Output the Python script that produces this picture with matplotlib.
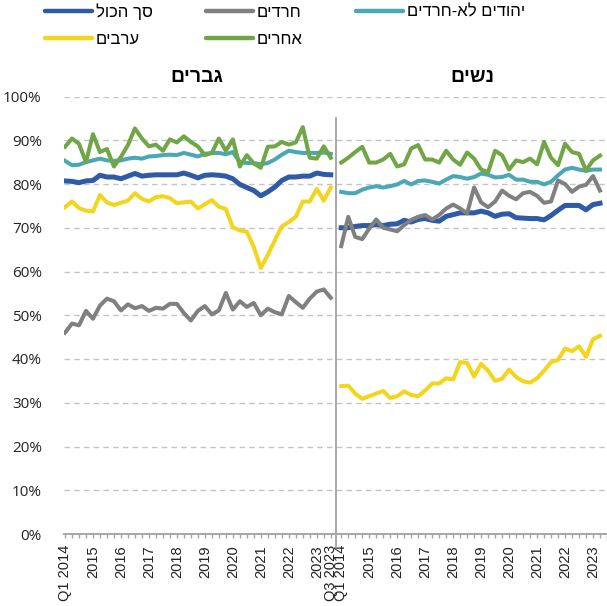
import numpy as np
import matplotlib
matplotlib.use("Agg")
import matplotlib.pyplot as plt
from matplotlib.lines import Line2D


def heb(s):
    # matplotlib has no bidi support, so reverse Hebrew strings by hand
    return s[::-1]


HEB_FONT = ['Liberation Sans', 'DejaVu Sans']

# series names (logical order)
names = ['סך הכול', 'יהודים לא-חרדים', 'חרדים', 'ערבים', 'אחרים']
colors = ['#2f5aa6', '#4ba7b5', '#808080', '#f2d51c', '#70a646']

# men, Q1 2014 - Q3 2023 (employment rate, %)
men_total = [80.7, 80.6, 80.3, 80.7, 80.8, 82.0, 81.6, 81.6, 81.2, 81.8, 82.4, 81.8, 82.0,
             82.1, 82.1, 82.1, 82.1, 82.5, 82.0, 81.4, 82.0, 82.1, 82.0, 81.8, 81.2, 79.9,
             79.2, 78.5, 77.3, 78.2, 79.3, 80.8, 81.6, 81.6, 81.8, 81.8, 82.5, 82.2, 82.1]
men_jews = [85.3, 84.3, 84.4, 85.0, 85.4, 85.8, 85.4, 85.3, 85.4, 85.8, 86.0, 85.8, 86.3,
            86.4, 86.6, 86.7, 86.6, 87.1, 86.7, 86.3, 86.9, 87.1, 87.1, 86.8, 87.3, 85.0,
            84.8, 84.8, 84.5, 84.8, 85.6, 86.7, 87.6, 87.3, 87.1, 87.1, 87.1, 87.2, 86.9]
men_haredi = [46.0, 48.1, 47.7, 51.0, 49.2, 52.2, 53.8, 53.2, 51.1, 52.5, 51.6, 52.1, 51.0,
              51.7, 51.5, 52.6, 52.6, 50.5, 48.8, 51.0, 52.1, 50.2, 51.1, 55.1, 51.3, 53.2,
              51.9, 52.8, 50.0, 51.5, 50.7, 50.2, 54.4, 53.0, 51.7, 53.8, 55.4, 55.9, 54.0]
men_arab = [74.7, 76.0, 74.5, 73.9, 73.7, 77.5, 75.8, 75.2, 75.7, 76.2, 77.9, 76.6, 76.0,
            77.0, 77.2, 76.8, 75.6, 75.8, 76.0, 74.4, 75.4, 76.3, 74.8, 74.3, 70.1, 69.4,
            69.1, 65.6, 60.8, 63.8, 67.1, 70.3, 71.3, 72.5, 76.0, 76.0, 78.9, 76.2, 79.2]
men_other = [88.5, 90.4, 89.2, 85.0, 91.4, 87.3, 88.0, 84.0, 86.2, 88.9, 92.7, 90.4, 88.6,
             89.0, 87.6, 90.2, 89.5, 90.9, 89.6, 88.6, 86.6, 87.1, 90.4, 87.6, 90.2, 84.0,
             86.6, 84.7, 83.7, 88.5, 88.6, 89.6, 89.0, 89.5, 93.0, 86.0, 85.8, 88.6, 86.0]

# women, Q1 2014 onwards (the picture is cut at the right edge)
women_total = [70.0, 70.0, 70.3, 70.5, 70.5, 70.7, 70.5, 70.8, 70.9, 71.7, 71.3, 71.9, 72.1,
               71.7, 71.5, 72.6, 73.0, 73.4, 73.4, 73.4, 73.8, 73.4, 72.6, 73.1, 73.2, 72.3,
               72.2, 72.1, 72.1, 71.8, 72.8, 74.0, 75.1, 75.1, 75.1, 74.1, 75.3, 75.6]
women_jews = [78.2, 77.9, 77.9, 78.7, 79.2, 79.5, 79.2, 79.5, 79.9, 80.7, 79.9, 80.7, 80.8,
              80.5, 80.1, 81.0, 81.8, 81.6, 81.2, 81.6, 82.4, 82.1, 81.5, 81.6, 82.1, 81.0,
              81.0, 80.5, 80.5, 79.9, 80.5, 82.0, 83.3, 83.7, 83.3, 83.0, 83.3, 83.3]
women_haredi = [65.8, 72.5, 67.9, 67.4, 69.8, 71.9, 70.0, 69.6, 69.2, 70.6, 71.8, 72.5, 72.9,
                71.9, 72.9, 74.4, 75.3, 74.4, 73.3, 79.2, 75.8, 74.7, 76.0, 78.5, 77.3, 76.5,
                77.9, 78.2, 77.3, 75.7, 76.0, 80.8, 80.0, 78.2, 79.4, 79.8, 81.8, 78.5]
women_arab = [33.8, 33.9, 32.1, 30.9, 31.5, 32.1, 32.7, 31.1, 31.5, 32.6, 31.8, 31.5, 32.8,
              34.4, 34.4, 35.6, 35.3, 39.3, 39.1, 36.0, 38.9, 37.3, 35.0, 35.5, 37.6, 35.9,
              34.9, 34.6, 35.6, 37.3, 39.3, 39.8, 42.4, 41.8, 42.9, 40.5, 44.5, 45.3]
women_other = [84.9, 86.0, 87.3, 88.5, 84.9, 84.9, 85.6, 86.9, 84.0, 84.5, 88.1, 88.9, 85.6,
               85.6, 84.9, 87.6, 85.6, 84.4, 87.2, 85.8, 83.3, 82.7, 87.6, 86.6, 83.3, 85.4,
               85.0, 85.8, 84.5, 89.6, 86.0, 84.3, 89.2, 87.3, 86.9, 83.1, 85.4, 86.5]

men = [men_total, men_jews, men_haredi, men_arab, men_other]
women = [women_total, women_jews, women_haredi, women_arab, women_other]

years = list(range(2014, 2024))
women_offset = 39.5

fig = plt.figure(figsize=(6.07, 6.06), dpi=100)
ax = fig.add_axes([64 / 607, 72 / 606, 543 / 607, 437.5 / 606])

widths = [3.6, 2.9, 2.9, 2.9, 2.9]
for i in range(len(names)):
    xm = np.arange(len(men[i]))
    xw = np.arange(len(women[i])) + women_offset
    ax.plot(xm, men[i], color=colors[i], lw=widths[i], solid_joinstyle='round')
    ax.plot(xw, women[i], color=colors[i], lw=widths[i], solid_joinstyle='round')

ax.set_ylim(0, 100)
ax.set_xlim(-0.14, 76.0)
ax.set_yticks(np.arange(0, 101, 10))
ax.set_yticklabels([f'{v}%' for v in range(0, 101, 10)], fontfamily='Open Sans', fontsize=11)
ax.tick_params(axis='y', length=0, pad=16, labelcolor='#222222')
ax.yaxis.grid(True, color='#c4c4c4', linestyle=(0, (4, 3)), lw=1)
ax.set_axisbelow(True)

for s in ['left', 'right', 'top']:
    ax.spines[s].set_visible(False)
ax.spines['bottom'].set_color('#a6a6a6')
ax.spines['bottom'].set_linewidth(1.4)

# quarter ticks, labels on Q1 of every year
men_q = np.arange(39)
women_q = np.arange(39) + women_offset
ax.set_xticks(np.concatenate([men_q, women_q]), minor=True)
ax.tick_params(axis='x', which='minor', length=3, color='#a6a6a6', width=1)
ticks = [4 * k for k in range(10)] + [38] + [4 * k + women_offset for k in range(10)]
labels = ['Q1 2014'] + [str(y) for y in years[1:]] + ['Q3 2023'] + \
         ['Q1 2014'] + [str(y) for y in years[1:]]
ax.set_xticks(ticks)
ax.set_xticklabels(labels, rotation=90, fontfamily='Liberation Sans', fontsize=10.5)
ax.tick_params(axis='x', which='major', length=3, color='#a6a6a6', width=1, pad=5,
               labelcolor='#222222')

# separator between men and women
sep = 38.75
ax.plot([sep, sep], [95.1, -3.2], color='#999999', lw=1.2, clip_on=False)

# panel titles
fig.text(197 / 607, 1 - 77 / 606, heb('גברים'), ha='center', va='center',
         fontsize=14, fontweight='bold', family=HEB_FONT)
fig.text(472 / 607, 1 - 77 / 606, heb('נשים'), ha='center', va='center',
         fontsize=14, fontweight='bold', family=HEB_FONT)

# legend: columns (total, arabs), (haredi, other), (non-haredi jews)
order = [0, 3, 2, 4, 1]
handles = [Line2D([], [], color=colors[i], lw=3.2, solid_capstyle='round') for i in order]
leg_labels = [heb(names[i]) for i in order]
fig.legend(handles, leg_labels, ncol=3, loc='upper left', bbox_to_anchor=(45 / 607, 1 - 3 / 606),
           frameon=False, handlelength=2.8, handletextpad=0.25, columnspacing=3.2,
           labelspacing=0.75, borderpad=0, borderaxespad=0,
           prop={'family': HEB_FONT, 'size': 12})

fig.savefig('out.png', dpi=100)
